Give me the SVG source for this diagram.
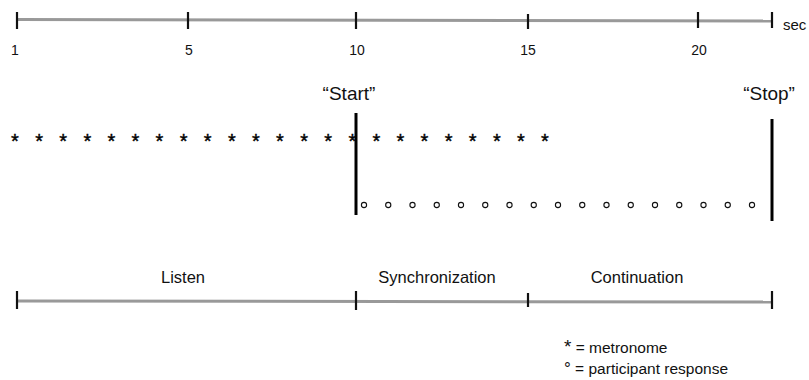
<svg xmlns="http://www.w3.org/2000/svg" width="809" height="380" viewBox="0 0 809 380">
<style>
.axis{stroke:#999;stroke-width:3;fill:none}
.tick{stroke:#111;stroke-width:2.2}
.bar{stroke:#000;stroke-width:3}
text{font-family:"Liberation Sans",Arial,sans-serif;fill:#111}
.num{font-size:14px;text-anchor:middle}
.lab{font-size:16.5px;text-anchor:middle}
.q{font-size:19px;text-anchor:middle}
.star{font-size:20px;text-anchor:middle;fill:#000;stroke:#000;stroke-width:0.4}
.leg{font-size:15.5px}
.resp{fill:#fff;stroke:#111;stroke-width:1.1}
</style>
<rect width="809" height="380" fill="#fff"/>
<g id="connectors">
<line class="axis" x1="17" y1="19.5" x2="772" y2="21"/>
<line class="tick" x1="17" y1="12" x2="17" y2="29"/>
<line class="tick" x1="188" y1="12" x2="188" y2="29"/>
<line class="tick" x1="356" y1="12" x2="356" y2="29"/>
<line class="tick" x1="528" y1="14" x2="528" y2="29"/>
<line class="tick" x1="698" y1="12" x2="698" y2="28"/>
<line class="tick" x1="772" y1="12" x2="772" y2="28"/>
<line class="axis" x1="17" y1="301" x2="772" y2="302"/>
<line class="tick" x1="17" y1="291" x2="17" y2="309"/>
<line class="tick" x1="356" y1="291" x2="356" y2="310"/>
<line class="tick" x1="528" y1="293" x2="528" y2="307"/>
<line class="tick" x1="772" y1="291" x2="772" y2="309"/>
<line class="bar" x1="356" y1="113" x2="356" y2="215"/>
<line class="bar" x1="772" y1="119" x2="772" y2="221"/>
</g>
<g id="time-axis-labels">
<text class="num" x="15" y="55">1</text>
<text class="num" x="189" y="55">5</text>
<text class="num" x="357" y="55">10</text>
<text class="num" x="528" y="55">15</text>
<text class="num" x="699" y="55">20</text>
<text x="783" y="30" style="font-size:15px">sec</text>
</g>
<g id="start"><text class="q" x="349" y="100">“Start”</text></g>
<g id="stop"><text class="q" x="769" y="100">“Stop”</text></g>
<g id="metronome">
<text class="star" x="15" y="147.5">*</text>
<text class="star" x="39.1" y="147.5">*</text>
<text class="star" x="63.2" y="147.5">*</text>
<text class="star" x="87.3" y="147.5">*</text>
<text class="star" x="111.4" y="147.5">*</text>
<text class="star" x="135.5" y="147.5">*</text>
<text class="star" x="159.5" y="147.5">*</text>
<text class="star" x="183.6" y="147.5">*</text>
<text class="star" x="207.7" y="147.5">*</text>
<text class="star" x="231.8" y="147.5">*</text>
<text class="star" x="255.9" y="147.5">*</text>
<text class="star" x="280" y="147.5">*</text>
<text class="star" x="304.1" y="147.5">*</text>
<text class="star" x="328.2" y="147.5">*</text>
<text class="star" x="352.3" y="147.5">*</text>
<text class="star" x="376.4" y="147.5">*</text>
<text class="star" x="400.5" y="147.5">*</text>
<text class="star" x="424.5" y="147.5">*</text>
<text class="star" x="448.6" y="147.5">*</text>
<text class="star" x="472.7" y="147.5">*</text>
<text class="star" x="496.8" y="147.5">*</text>
<text class="star" x="520.9" y="147.5">*</text>
<text class="star" x="545" y="147.5">*</text>
</g>
<g id="responses">
<circle class="resp" cx="364" cy="205" r="2.6"/>
<circle class="resp" cx="388.25" cy="205" r="2.6"/>
<circle class="resp" cx="412.5" cy="205" r="2.6"/>
<circle class="resp" cx="436.75" cy="205" r="2.6"/>
<circle class="resp" cx="461" cy="205" r="2.6"/>
<circle class="resp" cx="485.25" cy="205" r="2.6"/>
<circle class="resp" cx="509.5" cy="205" r="2.6"/>
<circle class="resp" cx="533.75" cy="205" r="2.6"/>
<circle class="resp" cx="558" cy="205" r="2.6"/>
<circle class="resp" cx="582.25" cy="205" r="2.6"/>
<circle class="resp" cx="606.5" cy="205" r="2.6"/>
<circle class="resp" cx="630.75" cy="205" r="2.6"/>
<circle class="resp" cx="655" cy="205" r="2.6"/>
<circle class="resp" cx="679.25" cy="205" r="2.6"/>
<circle class="resp" cx="703.5" cy="205" r="2.6"/>
<circle class="resp" cx="727.75" cy="205" r="2.6"/>
<circle class="resp" cx="752" cy="205" r="2.6"/>
</g>
<g id="phases">
<text class="lab" x="183" y="283">Listen</text>
<text class="lab" x="437" y="283">Synchronization</text>
<text class="lab" x="637" y="283">Continuation</text>
</g>
<g id="legend">
<text class="leg" x="564" y="353"><tspan style="font-size:19px">*</tspan> = metronome</text>
<text class="leg" x="564" y="374"><tspan style="font-size:17px">°</tspan> = participant response</text>
</g>
</svg>
